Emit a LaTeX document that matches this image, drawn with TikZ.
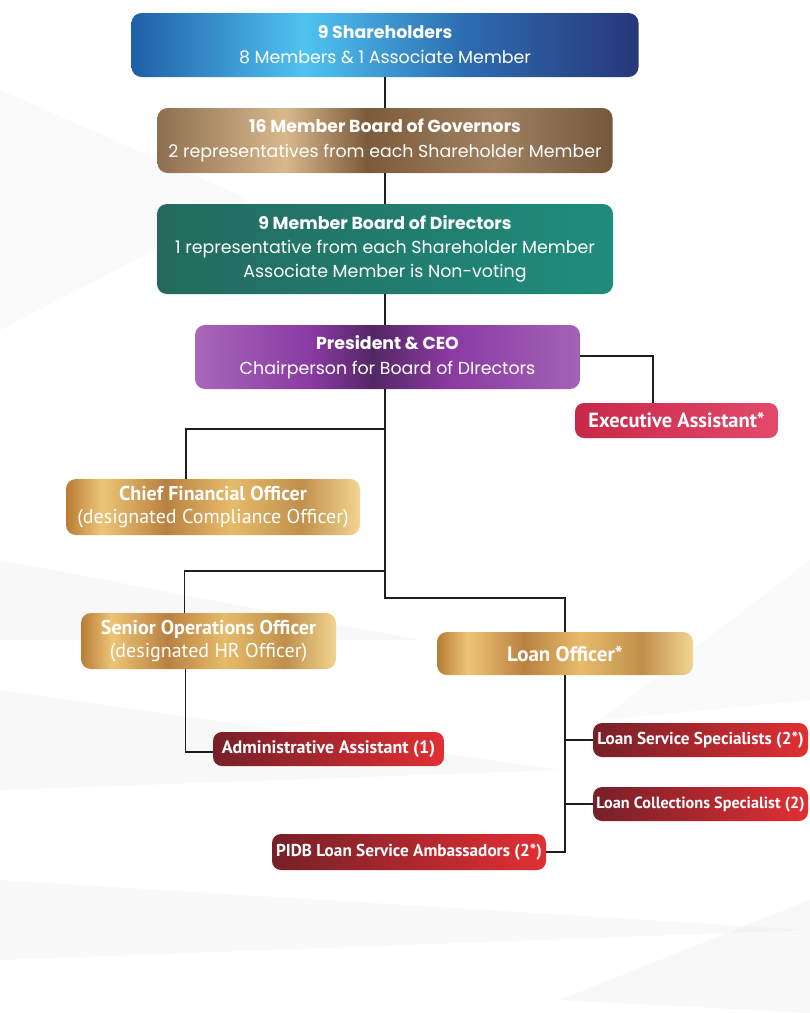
\documentclass[tikz,border=0pt]{standalone}
\usepackage{fontspec}
\setmainfont{Poppins}
\newfontfamily\condfont{PT Sans}

\definecolor{linkgray}{HTML}{1E1E22}
\definecolor{streak}{HTML}{E4E4EA}
%% shading colours
\definecolor{shA}{HTML}{1F5FA6}
\definecolor{shB}{HTML}{4FC3F0}
\definecolor{shC}{HTML}{2C6CB0}
\definecolor{shD}{HTML}{283779}
\definecolor{gvA}{HTML}{8E6F50}
\definecolor{gvB}{HTML}{D8B88C}
\definecolor{gvC}{HTML}{7C5B3A}
\definecolor{gvD}{HTML}{A08262}
\definecolor{gvE}{HTML}{73583C}
\definecolor{dirA}{HTML}{236A5E}
\definecolor{dirB}{HTML}{1F8D7D}
\definecolor{prA}{HTML}{A867B9}
\definecolor{prB}{HTML}{8A3AA2}
\definecolor{prC}{HTML}{552766}
\definecolor{prD}{HTML}{A363B6}
\definecolor{gdA}{HTML}{B77C34}
\definecolor{gdB}{HTML}{EDC577}
\definecolor{gdC}{HTML}{B98141}
\definecolor{gdD}{HTML}{E7BB6A}
\definecolor{gdE}{HTML}{C0904C}
\definecolor{gdF}{HTML}{F1D590}
\definecolor{redA}{HTML}{762028}
\definecolor{redB}{HTML}{E22F33}
\definecolor{eaA}{HTML}{C82848}
\definecolor{eaB}{HTML}{E34A6A}

\pgfdeclarehorizontalshading{shareband}{100bp}{color(0bp)=(shA); color(25bp)=(shA);
  color(42bp)=(shB); color(58bp)=(shC); color(75bp)=(shD); color(100bp)=(shD)}
\pgfdeclarehorizontalshading{govband}{100bp}{color(0bp)=(gvA); color(25bp)=(gvA);
  color(39bp)=(gvB); color(48bp)=(gvC); color(62bp)=(gvD); color(75bp)=(gvE); color(100bp)=(gvE)}
\pgfdeclarehorizontalshading{presband}{100bp}{color(0bp)=(prA); color(25bp)=(prA);
  color(40bp)=(prB); color(48bp)=(prC); color(58bp)=(prB); color(75bp)=(prD); color(100bp)=(prD)}
\pgfdeclarehorizontalshading{goldband}{100bp}{color(0bp)=(gdA); color(25bp)=(gdA);
  color(31bp)=(gdB); color(42bp)=(gdC); color(53bp)=(gdD); color(65bp)=(gdE); color(75bp)=(gdF); color(100bp)=(gdF)}

\tikzset{
  unitbox/.style={rounded corners=10pt, text=white, align=center, inner sep=0pt, shade},
  headbox/.style={unitbox, font=\fontsize{17.4}{25}\selectfont},
  officerbox/.style={unitbox, shading=goldband, font=\condfont\fontsize{20}{23}\selectfont},
  staffbox/.style={unitbox, rounded corners=9pt, left color=redA, right color=redB,
    minimum height=34pt, font=\condfont\bfseries\fontsize{17.2}{19}\selectfont},
  link/.style={draw=linkgray, line width=1.4pt},
}

\begin{document}
\begin{tikzpicture}[x=1pt,y=-1pt]
    %% Background
    \fill[white] (0,0) rectangle (810,1013);
    \useasboundingbox (0,0) rectangle (810,1013);
    \fill[streak,opacity=0.18] (0,90) -- (250,200) -- (0,330) -- cycle;
    \fill[streak,opacity=0.25] (0,560) -- (420,640) -- (0,640) -- cycle;
    \fill[streak,opacity=0.25] (0,690) -- (560,770) -- (0,790) -- cycle;
    \fill[streak,opacity=0.2] (0,880) -- (810,930) -- (0,960) -- cycle;
    \fill[streak,opacity=0.25] (810,900) -- (560,1000) -- (810,1013) -- cycle;
    \fill[streak,opacity=0.15] (810,560) -- (600,720) -- (810,700) -- cycle;

    %% Board levels
    \node[headbox, shading=shareband, minimum width=507pt, minimum height=64pt] (share) at (385,45)
        {\textbf{9 Shareholders}\\8 Members \& 1 Associate Member};
    \node[headbox, shading=govband, minimum width=455pt, minimum height=65pt] (gov) at (385,140.5)
        {\textbf{16 Member Board of Governors}\\2 representatives from each Shareholder Member};
    \node[headbox, left color=dirA, right color=dirB, minimum width=456pt, minimum height=90pt,
        font=\fontsize{17.4}{24}\selectfont] (dir) at (385,249)
        {\textbf{9 Member Board of Directors}\\1 representative from each Shareholder Member\\Associate Member is Non-voting};
    \node[headbox, shading=presband, minimum width=385pt, minimum height=64pt] (pres) at (387.5,357)
        {\textbf{President \& CEO}\\Chairperson for Board of DIrectors};
    \node[unitbox, rounded corners=9pt, left color=eaA, right color=eaB, minimum width=203pt,
        minimum height=35pt, font=\condfont\bfseries\fontsize{20.5}{23}\selectfont] (ea) at (676.5,420.5)
        {Executive Assistant*};

    %% Officers
    \node[officerbox, minimum width=294pt, minimum height=56pt] (cfo) at (213,507)
        {\textbf{Chief Financial Officer}\\(designated Compliance Officer)};
    \node[officerbox, minimum width=255pt, minimum height=56pt] (seo) at (208.5,641)
        {\textbf{Senior Operations Officer}\\(designated HR Officer)};
    \node[officerbox, minimum width=256pt, minimum height=43pt, font=\condfont\fontsize{21}{23}\selectfont] (loan) at (565,653.5)
        {\textbf{Loan Officer*}};

    %% Staff
    \node[staffbox, minimum width=231pt, font=\condfont\bfseries\fontsize{18}{20}\selectfont] (admin) at (328.5,749)
        {Administrative Assistant (1)};
    \node[staffbox, minimum width=215pt] (lss) at (700.5,740)
        {Loan Service Specialists (2*)};
    \node[staffbox, minimum width=215pt, font=\condfont\bfseries\fontsize{16.2}{18}\selectfont] (lcs) at (700.5,804)
        {Loan Collections Specialist (2)};
    \node[staffbox, minimum width=274pt, minimum height=36pt] (pidb) at (409,852)
        {PIDB Loan Service Ambassadors (2*)};

    %% Connectors
    \coordinate (cfojoin) at (385,429);
    \coordinate (seojoin) at (385,571);
    \coordinate (loanjoin) at (385,598);
    \draw[link] (share.south) -- (gov.north);
    \draw[link] (gov.south) -- (gov.south |- dir.north);
    \draw[link] (dir.south) -- (dir.south |- pres.north);
    \draw[link] (pres.south -| cfojoin) -- (loanjoin) -| (loan.north);
    \draw[link] (cfojoin) -| ([xshift=-27pt]cfo.north);
    \draw[link] (seojoin) -| ([xshift=-24pt]seo.north);
    \draw[link] ([yshift=1pt]pres.east) -| ([xshift=-23.5pt]ea.north);
    \draw[link] ([xshift=-23pt]seo.south) |- ([yshift=-3pt]admin.west);
    \draw[link] (loan.south) |- (pidb.east);
    \draw[link] (loan.south |- lss.west) -- (lss.west);
    \draw[link] (loan.south |- lcs.west) -- (lcs.west);
\end{tikzpicture}
\end{document}
